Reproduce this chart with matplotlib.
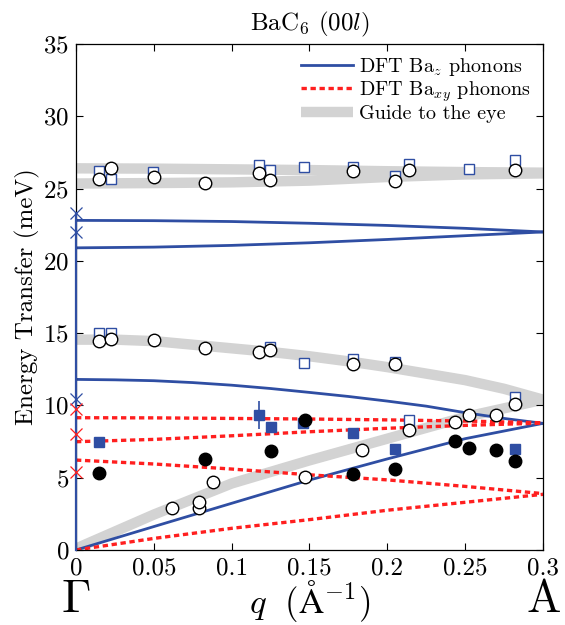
import matplotlib
matplotlib.use('Agg')
import matplotlib.pyplot as plt
from matplotlib.lines import Line2D

plt.rcParams.update({
    'font.family': 'cmr10',
    'mathtext.fontset': 'cm',
    'axes.unicode_minus': False,
    'axes.formatter.use_mathtext': True,
    'font.size': 14,
})

# ---- DFT curves ----
q_dft = [0, 0.05, 0.1, 0.15, 0.2, 0.25, 0.3]
baz_hi = [22.8, 22.78, 22.72, 22.6, 22.45, 22.25, 22.0]
baz_lo = [20.9, 20.95, 21.07, 21.25, 21.48, 21.74, 22.0]
baz_ac = [0, 1.62, 3.23, 4.84, 6.3, 7.7, 8.76]
q_mid = [0, 0.025, 0.05, 0.075, 0.1, 0.125, 0.15, 0.175, 0.2, 0.225, 0.25, 0.275, 0.3]
baz_mid = [11.8, 11.77, 11.71, 11.58, 11.4, 11.17, 10.9, 10.62, 10.3, 9.95, 9.5, 9.1, 8.76]
baxy_1 = [9.15, 9.14, 9.1, 9.06, 9.0, 8.92, 8.8]
baxy_2 = [7.49, 7.65, 7.9, 8.18, 8.42, 8.62, 8.78]
baxy_3 = [6.22, 5.95, 5.6, 5.2, 4.85, 4.4, 3.9]
baxy_4 = [0, 0.8, 1.5, 2.1, 2.75, 3.3, 3.85]
gamma_baz = [23.3, 22.0, 10.45]
gamma_baxy = [9.75, 8.0, 5.4]

# ---- guides to the eye ----
guide_top = [26.4, 26.38, 26.33, 26.28, 26.2, 26.14, 26.1]
guide_low = [25.35, 25.38, 25.43, 25.55, 25.8, 25.98, 26.05]
guide_mid = [14.55, 14.55, 14.45, 14.2, 13.95, 13.7, 13.4, 13.05, 12.65, 12.2, 11.75, 11.15, 10.4]
guide_ac = [0.1, 2.45, 4.6, 6.2, 7.7, 9.2, 10.4]

# ---- measured points ----
sq_q = [0.0148, 0.0225, 0.0497, 0.1176, 0.1248, 0.1467, 0.178, 0.205, 0.2141, 0.2527, 0.2822,
        0.0148, 0.0225, 0.1248, 0.1467, 0.178, 0.205, 0.2141, 0.2822]
sq_E = [26.23, 25.63, 26.17, 26.65, 26.28, 26.47, 26.5, 25.86, 26.7, 26.33, 27.0,
        15.03, 14.98, 14.06, 12.91, 13.19, 13.02, 8.99, 10.6]
sq_err = [0, 0, 0.15, 0.25, 0, 0, 0.15, 0.15, 0.2, 0, 0.2,
          0, 0, 0.15, 0, 0.15, 0.1, 0, 0.1]

oc_q = [0.0148, 0.0225, 0.050, 0.0827, 0.1176, 0.1248, 0.178, 0.205, 0.2141, 0.2822,
        0.0148, 0.0225, 0.050, 0.0827, 0.1176, 0.1248, 0.178, 0.205, 0.2822,
        0.0615, 0.0792, 0.0792, 0.0882, 0.1471, 0.1835, 0.2141, 0.2435, 0.2527, 0.2698]
oc_E = [25.63, 26.4, 25.8, 25.4, 26.1, 25.59, 26.2, 25.5, 26.26, 26.28,
        14.47, 14.57, 14.52, 13.99, 13.72, 13.81, 12.84, 12.88, 10.08,
        2.88, 2.88, 3.34, 4.72, 5.07, 6.92, 8.3, 8.87, 9.34, 9.34]

fc_q = [0.015, 0.0829, 0.125, 0.1471, 0.1777, 0.205, 0.2435, 0.2527, 0.2698, 0.2822]
fc_E = [5.35, 6.29, 6.87, 8.99, 5.26, 5.58, 7.54, 7.03, 6.92, 6.15]

fs_q = [0.0148, 0.1178, 0.125, 0.146, 0.1777, 0.205, 0.2822]
fs_E = [7.47, 9.34, 8.49, 8.76, 8.07, 6.98, 6.98]
fs_err = [0, 1.0, 0, 0.3, 0, 0, 0]

blue = '#2f4ea3'
red = '#ff1f1f'
grey = '#d3d3d3'
dot = (0, (1.6, 1.1))

fig = plt.figure(figsize=(5.65, 6.25), dpi=100)
ax = fig.add_axes([0.1345, 0.12, 0.8265, 0.8096])

# guides
for g, qq in [(guide_top, q_dft), (guide_low, q_dft), (guide_mid, q_mid), (guide_ac, q_dft)]:
    ax.plot(qq, g, color=grey, lw=7.5, solid_capstyle='butt', zorder=1)

# DFT lines
ax.plot([0, 0], [0, 23.3], color=blue, lw=1.6, zorder=3, clip_on=False)
for e in [baz_hi, baz_lo, baz_ac]:
    ax.plot(q_dft, e, color=blue, lw=2.0, zorder=2)
ax.plot(q_mid, baz_mid, color=blue, lw=2.0, zorder=2)
for e in [baxy_1, baxy_2, baxy_3, baxy_4]:
    ax.plot(q_dft, e, color=red, lw=2.4, ls=dot, zorder=2)
ax.plot([0] * 3, gamma_baz, 'x', color=blue, ms=9, mew=0.9, clip_on=False, zorder=3)
ax.plot([0] * 3, gamma_baxy, 'x', color=red, ms=9, mew=0.9, clip_on=False, zorder=3)

# data
ax.errorbar(sq_q, sq_E, yerr=sq_err, fmt='s', ms=7, mfc='white', mec=blue, mew=1.0,
            ecolor=blue, elinewidth=1.0, capsize=0, zorder=4)
ax.plot(oc_q, oc_E, 'o', ms=9, mfc='white', mec='black', mew=1.0, zorder=5)
ax.errorbar(fs_q, fs_E, yerr=fs_err, fmt='s', ms=7, mfc=blue, mec=blue,
            ecolor=blue, elinewidth=1.2, capsize=0, zorder=4)
ax.plot(fc_q, fc_E, 'o', ms=9, mfc='black', mec='black', zorder=5)

ax.set_xlim(0, 0.3)
ax.set_ylim(0, 35)
ax.set_xticks([0, 0.05, 0.1, 0.15, 0.2, 0.25, 0.3])
ax.set_xticklabels(['0', '0.05', '0.1', '0.15', '0.2', '0.25', '0.3'])
ax.set_yticks(range(0, 40, 5))
ax.tick_params(direction='in', top=True, right=True, length=5, width=0.8,
               labelsize=18, pad=5)
for s in ax.spines.values():
    s.set_linewidth(0.9)

ax.set_title(r'BaC$_6$ $(00l)$', fontsize=18, pad=10)
ax.set_ylabel('Energy Transfer (meV)', fontsize=18, labelpad=2)
ax.text(0.15, -0.1, r'$q\ \ (\mathrm{\AA}^{-1})$', transform=ax.get_xaxis_transform(),
        ha='center', va='center', fontsize=25)
ax.text(0, -0.1, r'$\Gamma$', transform=ax.get_xaxis_transform(),
        ha='center', va='center', fontsize=34)
ax.text(0.3, -0.1, r'$\mathrm{A}$', transform=ax.get_xaxis_transform(),
        ha='center', va='center', fontsize=33)

handles = [Line2D([], [], color=blue, lw=2.0),
           Line2D([], [], color=red, lw=2.4, ls=dot),
           Line2D([], [], color=grey, lw=7.5, solid_capstyle='butt')]
labels = [r'DFT Ba$_z$ phonons', r'DFT Ba$_{xy}$ phonons', 'Guide to the eye']
ax.legend(handles, labels, loc='upper right', frameon=False, fontsize=14.5,
          handlelength=2.6, handletextpad=0.3, labelspacing=0.05,
          borderaxespad=0.2)

fig.savefig('out.png', dpi=100, facecolor='white')
